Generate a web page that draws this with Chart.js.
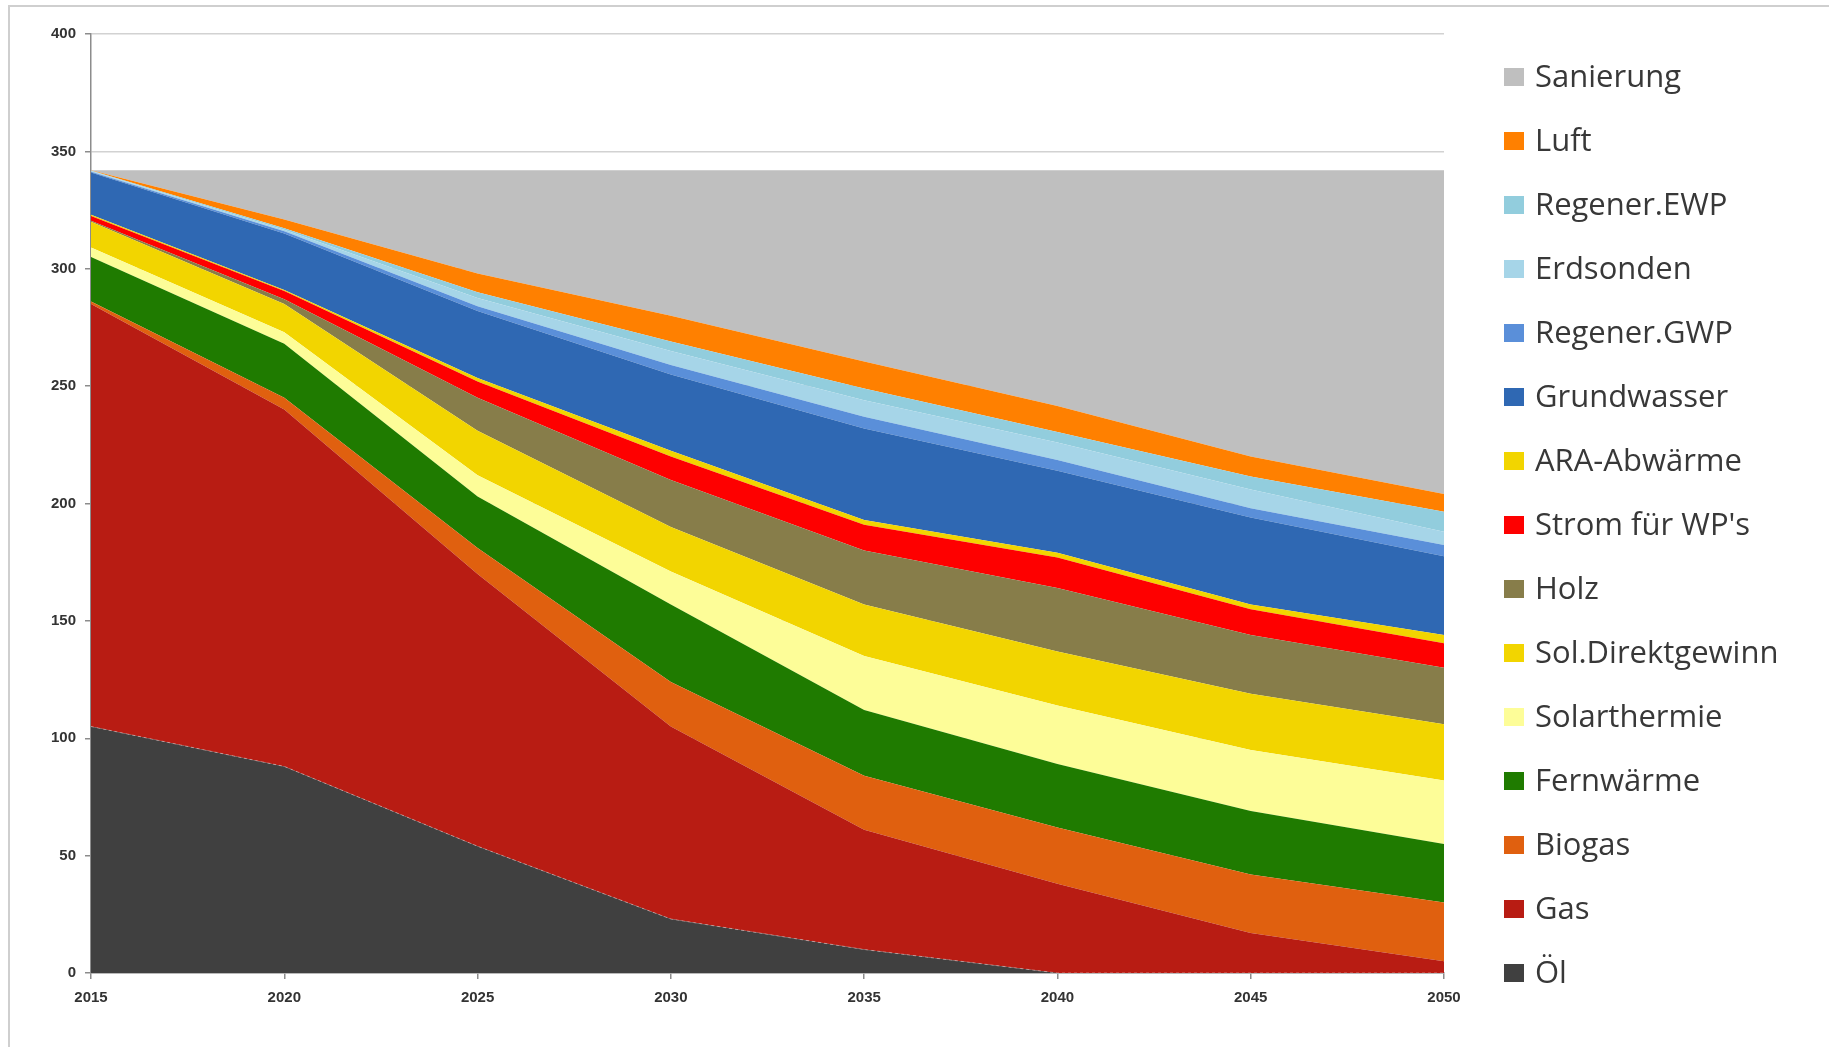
<!DOCTYPE html>
<html>
<head>
<meta charset="utf-8">
<script src="https://cdn.jsdelivr.net/npm/chart.js@4.4.1/dist/chart.umd.min.js"></script>
<style>
  html, body { margin: 0; padding: 0; background: #ffffff; }
  #wrap { position: relative; width: 1829px; height: 1047px; overflow: hidden; background: #fff; }
  #frame { position: absolute; left: 8px; top: 5px; width: 1900px; height: 1100px;
           border-left: 2px solid #cfcfcf; border-top: 2px solid #cfcfcf; pointer-events: none; }
  canvas { position: absolute; left: 0; top: 0; }
</style>
</head>
<body>
<div id="wrap">
  <canvas id="c" width="1829" height="1047"></canvas>
  <div id="frame"></div>
</div>
<script>
// ---- data (values per year, stacked bottom to top) ----
const years = ['2015', '2020', '2025', '2030', '2035', '2040', '2045', '2050'];
const yTicks = [0, 50, 100, 150, 200, 250, 300, 350, 400];

const oel          = [105, 88, 54, 23, 10, 0, 0, 0];
const gas          = [180, 152, 116, 82, 51, 38, 17, 5];
const biogas       = [1, 5, 11, 19, 23, 24, 25, 25];
const fernwaerme   = [19, 23, 22, 33, 28, 27, 27, 25];
const solarthermie = [4, 5, 9, 14, 23, 25, 26, 27];
const solDirekt    = [11, 12, 19, 19, 22, 23, 24, 24];
const holz         = [0.5, 2, 14, 20, 23, 27, 25, 24];
const strom        = [2, 3.5, 7, 10, 11, 13, 11, 10.5];
const araAbwaerme  = [0.5, 0.5, 1.5, 2.5, 2, 2, 2, 3.5];
const grundwasser  = [18, 24, 28.5, 32.5, 39, 35, 37, 33.5];
const regenerGWP   = [0.3, 1, 2, 4, 5, 4.5, 4, 4.8];
const erdsonden    = [0.3, 0.6, 3.5, 6, 7, 7.5, 8, 5.7];
const regenerEWP   = [0.2, 0.7, 2.5, 4, 5, 4.5, 5.5, 8.5];
const luft         = [0.2, 3.7, 8, 11, 11.5, 11, 8.5, 7.5];
const sanierung    = [0, 21, 44, 62, 81.5, 100.5, 122, 138];

const seriesLabels = ['Öl', 'Gas', 'Biogas', 'Fernwärme', 'Solarthermie', 'Sol.Direktgewinn', 'Holz',
  "Strom für WP's", 'ARA-Abwärme', 'Grundwasser', 'Regener.GWP', 'Erdsonden', 'Regener.EWP', 'Luft', 'Sanierung'];
const seriesValues = [oel, gas, biogas, fernwaerme, solarthermie, solDirekt, holz,
  strom, araAbwaerme, grundwasser, regenerGWP, erdsonden, regenerEWP, luft, sanierung];
const seriesColors = ['#404040', '#b81c13', '#e0600f', '#1f7b00', '#fdfd98', '#f2d500', '#877d4a',
  '#fe0000', '#f2d500', '#2f68b3', '#5a8fd9', '#a6d5e8', '#92cddd', '#ff8000', '#bfbfbf'];

const datasets = seriesLabels.map((lab, i) => ({
  label: lab,
  data: seriesValues[i],
  backgroundColor: seriesColors[i],
  borderColor: i === 0 ? 'rgba(255,220,220,0.45)' : seriesColors[i],
  borderWidth: i === 0 ? 1 : 0,
  borderDash: i === 0 ? [3, 3] : [],
  fill: i === 0 ? 'origin' : '-1',
  pointRadius: 0,
  tension: 0
}));

// custom legend drawn on the canvas at the right side
const sideLegend = {
  id: 'sideLegend',
  afterDraw(chart) {
    const ctx = chart.ctx;
    const ds = chart.data.datasets;
    ctx.save();
    ctx.font = '31px "Open Sans"';
    ctx.textBaseline = 'middle';
    ctx.textAlign = 'left';
    const n = ds.length;
    for (let k = 0; k < n; k++) {
      const d = ds[n - 1 - k];
      const y = 77 + k * 64;
      ctx.fillStyle = d.backgroundColor;
      ctx.fillRect(1504, y - 9, 20, 18);
      ctx.fillStyle = '#383838';
      ctx.fillText(d.label, 1535, y + 1);
    }
    ctx.restore();
  }
};

new Chart(document.getElementById('c'), {
  type: 'line',
  data: { labels: years, datasets: datasets },
  plugins: [sideLegend],
  options: {
    responsive: false,
    animation: false,
    devicePixelRatio: 1,
    layout: { padding: { left: 0, right: 385, top: 34, bottom: 34 } },
    plugins: { legend: { display: false }, tooltip: { enabled: false } },
    elements: { line: { borderJoinStyle: 'round' } },
    scales: {
      x: {
        offset: false,
        grid: { drawOnChartArea: false, drawTicks: true, tickLength: 6, color: '#8c8c8c', lineWidth: 1.5 },
        border: { display: true, color: '#8c8c8c', width: 1.5 },
        ticks: { color: '#333333', font: { family: '"Liberation Sans", Arial', size: 15, weight: 'bold' },
                 padding: 10, maxRotation: 0, autoSkip: false },
        afterFit: (s) => { s.height = 40; }
      },
      y: {
        stacked: true,
        min: 0, max: 400,
        afterBuildTicks: (s) => { s.ticks = yTicks.map(v => ({ value: v })); },
        grid: { color: '#d2d2d2', lineWidth: 1.5, tickLength: 6, tickColor: '#8c8c8c' },
        border: { display: true, color: '#8c8c8c', width: 1.5 },
        ticks: { color: '#333333', font: { family: '"Liberation Sans", Arial', size: 15, weight: 'bold' },
                 padding: 9 },
        afterFit: (s) => { s.width = 91; }
      }
    }
  }
});
</script>
</body>
</html>
